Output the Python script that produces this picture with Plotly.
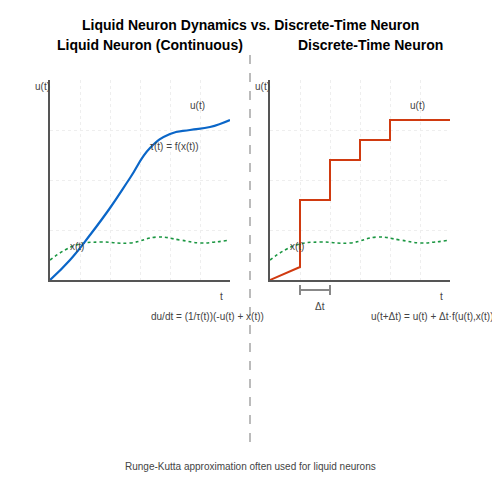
import plotly.graph_objects as go

# panel coordinates: x in px from axis origin, y up from axis
cont_x = [0, 20, 40, 60, 80, 100, 120, 140, 160, 180]
cont_u = [0, 20, 45, 72, 102, 132, 146, 150, 153, 160]
inp_x = [0, 15, 30, 50, 80, 107, 130, 150, 165, 180]
inp_v = [20, 30, 36, 38, 37, 43, 40, 37, 38, 40]
step_x = [0, 30, 30, 60, 60, 90, 90, 120, 120, 180]
step_u = [0, 13, 80, 80, 120, 120, 140, 140, 160, 160]

W = 500
OFF = 8  # page offset of the plot div
fig = go.Figure()
for xa, ya in [("x", "y"), ("x2", "y2")]:
    fig.add_trace(go.Scatter(x=inp_x, y=inp_v, mode="lines",
                             line=dict(color="#1a9641", dash="dot", width=1.6, shape="spline", smoothing=1.3),
                             xaxis=xa, yaxis=ya))
fig.add_trace(go.Scatter(x=cont_x, y=cont_u, mode="lines",
                         line=dict(color="#0a66c8", width=2.2, shape="spline", smoothing=1.3),
                         xaxis="x", yaxis="y"))
fig.add_trace(go.Scatter(x=step_x, y=step_u, mode="lines", line=dict(color="#d03a10", width=2),
                         xaxis="x2", yaxis="y2"))


def px(v):
    return (v - OFF) / W


def py(v):
    return 1 - (v - OFF) / W


ax = dict(range=[0, 180], showline=True, linecolor="#555", linewidth=2, showgrid=True, gridcolor="#eeeeee",
          griddash="dot", dtick=30, showticklabels=False, zeroline=False)
ay = dict(range=[0, 200], showline=True, linecolor="#555", linewidth=2, showgrid=True, gridcolor="#eeeeee",
          griddash="dot", tickvals=[50, 100, 150], showticklabels=False, zeroline=False)
fig.update_layout(
    width=W, height=W, margin=dict(l=0, r=0, t=0, b=0), showlegend=False,
    plot_bgcolor="white", paper_bgcolor="white", font=dict(family="Liberation Sans", color="#444", size=10),
    xaxis=dict(ax, domain=[px(50), px(230)], anchor="y"),
    yaxis=dict(ay, domain=[py(280), py(80)], anchor="x"),
    xaxis2=dict(ax, domain=[px(270), px(450)], anchor="y2"),
    yaxis2=dict(ay, domain=[py(280), py(80)], anchor="x2"),
)


def txt(x, y, s, size=10, color="#444", bold=False):
    fig.add_annotation(x=px(x), y=py(y), xref="paper", yref="paper", text=f"<b>{s}</b>" if bold else s,
                       showarrow=False, font=dict(size=size, color=color), xanchor="center", yanchor="middle")


txt(250, 25, "Liquid Neuron Dynamics vs. Discrete-Time Neuron", 14, "black", True)
txt(150, 45, "Liquid Neuron (Continuous)", 14, "black", True)
txt(370, 45, "Discrete-Time Neuron", 14, "black", True)
for off in (0, 220):
    txt(42 + off, 86, "u(t)")
    txt(197 + off, 106, "u(t)")
    txt(77 + off, 246, "x(t)")
    txt(221 + off, 296, "t")
txt(174, 146, "τ(t) = f(x(t))")
txt(207, 316, "du/dt = (1/τ(t))(-u(t) + x(t))")
txt(432, 316, "u(t+Δt) = u(t) + Δt·f(u(t),x(t))")
txt(320, 306, "Δt")
txt(250, 466, "Runge-Kutta approximation often used for liquid neurons")

fig.add_shape(type="line", xref="paper", yref="paper", x0=px(250), x1=px(250), y0=py(55), y1=py(445),
              line=dict(color="#bbb", width=2, dash="dash"))
for x0, y0, x1, y1 in [(300, 290, 330, 290), (300, 285, 300, 295), (330, 285, 330, 295)]:
    fig.add_shape(type="line", xref="paper", yref="paper", x0=px(x0), x1=px(x1), y0=py(y0), y1=py(y1),
                  line=dict(color="#888", width=2))

fig.write_html("out.html")
